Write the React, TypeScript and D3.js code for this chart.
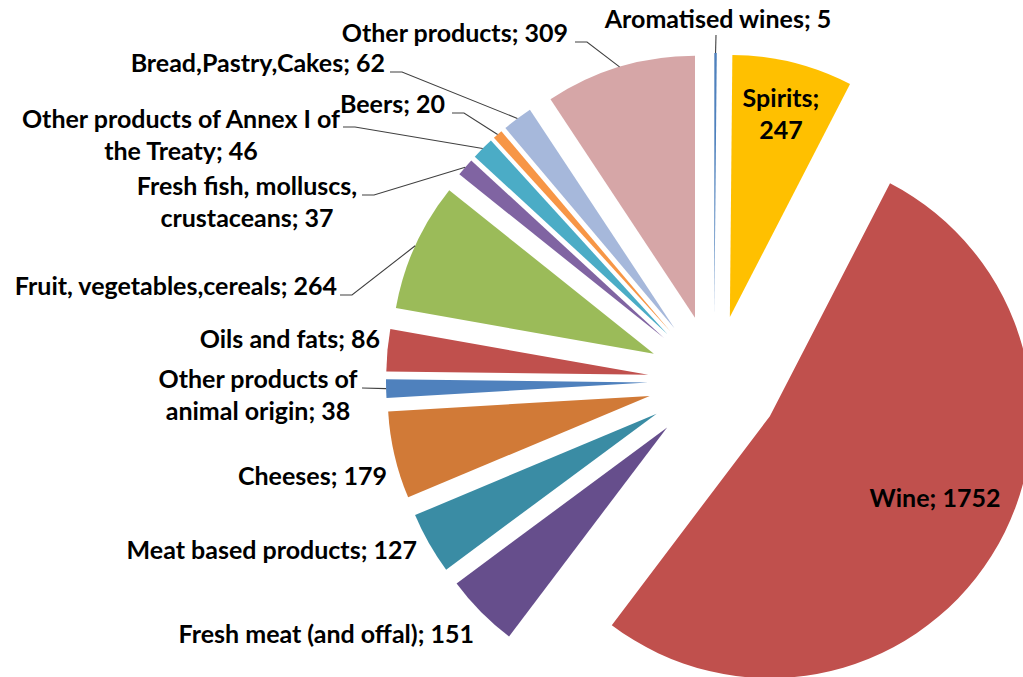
import React from "react";
import * as d3 from "d3";

const categories = [
  "Aromatised wines",
  "Spirits",
  "Wine",
  "Fresh meat (and offal)",
  "Meat based products",
  "Cheeses",
  "Other products of animal origin",
  "Oils and fats",
  "Fruit, vegetables,cereals",
  "Fresh fish, molluscs, crustaceans",
  "Other products of Annex I of the Treaty",
  "Beers",
  "Bread,Pastry,Cakes",
  "Other products",
];
const values = [5, 247, 1752, 151, 127, 179, 38, 86, 264, 37, 46, 20, 62, 309];
const colors = [
  "#4F81BD", "#FFC000", "#C0504D", "#664E8C", "#3A8CA4", "#D17A37", "#4F81BD",
  "#C0504D", "#9BBB59", "#8064A2", "#4BACC6", "#F79646", "#A6B8DB", "#D6A6A7",
];

// label layout (separate from data): anchor point, alignment, words on first line, leader start
type Lay = { x: number; y: number; anchor: string; first?: number; lx?: number; ly?: number; vertical?: boolean };
const layout: Record<string, Lay> = {
  "Aromatised wines": { x: 718, y: 28, anchor: "middle", lx: 716, ly: 35, vertical: true },
  "Spirits": { x: 781, y: 107, anchor: "middle", first: 1 },
  "Wine": { x: 935, y: 507, anchor: "middle" },
  "Fresh meat (and offal)": { x: 474, y: 643, anchor: "end" },
  "Meat based products": { x: 417, y: 559, anchor: "end" },
  "Cheeses": { x: 387, y: 485, anchor: "end" },
  "Other products of animal origin": { x: 258, y: 388, anchor: "middle", first: 3, lx: 362, ly: 388 },
  "Oils and fats": { x: 380, y: 348, anchor: "end" },
  "Fruit, vegetables,cereals": { x: 337, y: 295, anchor: "end", lx: 340, ly: 295 },
  "Fresh fish, molluscs, crustaceans": { x: 247, y: 195, anchor: "middle", first: 3, lx: 362, ly: 195 },
  "Other products of Annex I of the Treaty": { x: 181, y: 128, anchor: "middle", first: 6, lx: 343, ly: 127 },
  "Beers": { x: 445, y: 113, anchor: "end", lx: 452, ly: 113 },
  "Bread,Pastry,Cakes": { x: 385, y: 72, anchor: "end", lx: 390, ly: 72 },
  "Other products": { x: 568, y: 42, anchor: "end", lx: 575, ly: 42 },
};

const W = 1023;
const H = 677;
const CX = 714;
const CY = 381;
const R = 262;
const EXPLODE = 66;
const FONT = 25;
const LINE = 32;

export default function App() {
  const pie = d3.pie<number>().sort(null).value((d) => d).startAngle(0).endAngle(2 * Math.PI);
  const arcs = pie(values);
  const arcGen = d3.arc<d3.PieArcDatum<number>>().innerRadius(0).outerRadius(R);
  const dir = (a: number) => [Math.sin(a), -Math.cos(a)];

  return (
    <svg width={W} height={H} style={{ position: "absolute", left: 0, top: 0, background: "#fff" }}>
      <rect width={W} height={H} fill="#fff" />
      {arcs.map((a, i) => {
        const mid = (a.startAngle + a.endAngle) / 2;
        const [dx, dy] = dir(mid);
        return (
          <path
            key={categories[i]}
            d={arcGen(a) || ""}
            fill={colors[i]}
            transform={`translate(${CX + dx * EXPLODE},${CY + dy * EXPLODE})`}
          />
        );
      })}
      {arcs.map((a, i) => {
        const name = categories[i];
        const lay = layout[name];
        const mid = (a.startAngle + a.endAngle) / 2;
        const [dx, dy] = dir(mid);
        const words = `${name}; ${values[i]}`.split(" ");
        const lines = lay.first ? [words.slice(0, lay.first).join(" "), words.slice(lay.first).join(" ")] : [words.join(" ")];
        const x = lay.x;
        const y = lay.y;
        let leader = null;
        if (lay.lx !== undefined) {
          const ex = CX + dx * (EXPLODE + R);
          const ey = CY + dy * (EXPLODE + R);
          const pts: [number, number][] = lay.vertical
            ? [[lay.lx, lay.ly!], [ex, ey]]
            : Math.abs(ey - lay.ly!) < 6
            ? [[lay.lx, lay.ly!], [ex, ey]]
            : [[lay.lx, lay.ly!], [lay.lx + 12, lay.ly!], [ex, ey]];
          leader = <path d={d3.line()(pts) || ""} fill="none" stroke="#404040" strokeWidth={1.1} />;
        }
        return (
          <g key={"l" + name}>
            {leader}
            <text
              x={x}
              y={y}
              textAnchor={lay.anchor}
              fontFamily="Lato, 'Open Sans', sans-serif"
              fontWeight="bold"
              fontSize={FONT}
              fill="#000"
            >
              {lines.map((l, k) => (
                <tspan key={k} x={x} dy={k === 0 ? 0 : LINE}>
                  {l}
                </tspan>
              ))}
            </text>
          </g>
        );
      })}
    </svg>
  );
}
